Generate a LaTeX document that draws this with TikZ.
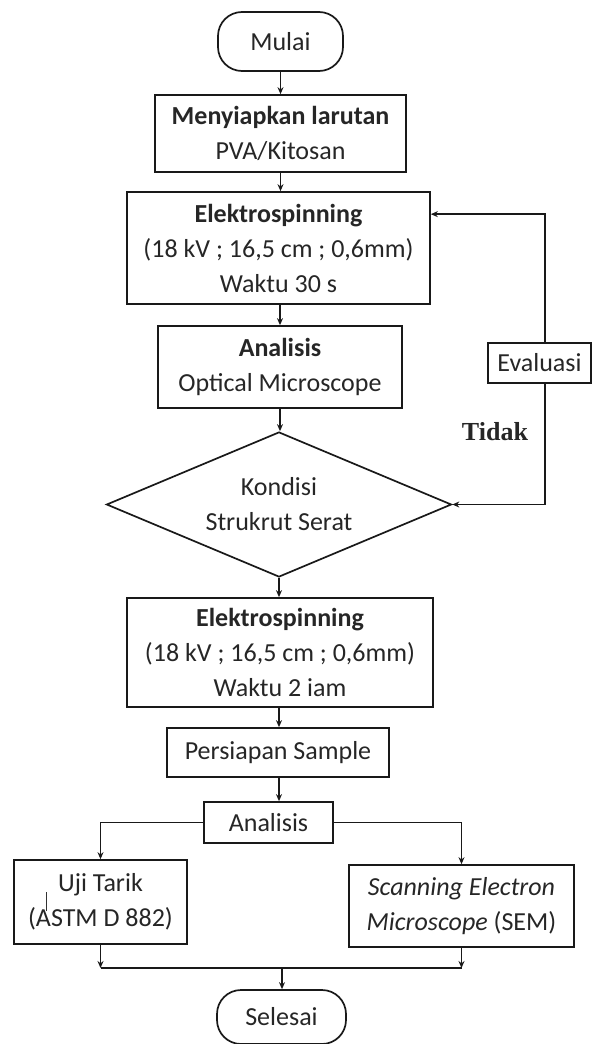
\documentclass[tikz,border=0pt]{standalone}
\usepackage{fontspec}
\setmainfont{Carlito}
\newfontfamily\tidakfont{Liberation Serif}
\usetikzlibrary{shapes.geometric,arrows.meta,calc}
\begin{document}
\begin{tikzpicture}[x=1pt,y=-1pt,
  every node/.style={font=\fontsize{26}{35}\selectfont, text=black!85, align=center, inner sep=0pt},
  box/.style={draw=black!90, line width=1.7pt, rectangle},
  term/.style={draw=black!90, line width=1.7pt, rectangle, rounded corners=24pt},
  dec/.style={draw=black!90, line width=1.7pt, diamond, aspect=2.38},
  conn/.style={draw=black!90, line width=1.5pt, -{Stealth[length=7pt,width=6pt]}},
  plain/.style={draw=black!90, line width=1.5pt}]
\useasboundingbox (0,0) rectangle (592,1044);

\node[term, minimum width=125pt, minimum height=59pt] (mulai) at (280.5,41.5) {Mulai};
\node[box, minimum width=251pt, minimum height=77pt] (prep) at (280.5,133.5) {\textbf{Menyiapkan larutan}\\PVA/Kitosan};
\node[box, minimum width=303pt, minimum height=112pt] (elek1) at (278.5,248) {\textbf{Elektrospinning}\\(18 kV ; 16,5 cm ; 0,6mm)\\Waktu 30 s};
\node[box, minimum width=244pt, minimum height=82pt] (anal1) at (280,367) {\textbf{Analisis}\\Optical Microscope};
\node[box, minimum width=103pt, minimum height=40pt] (eval) at (539.5,363) {Evaluasi};
\node[dec, minimum width=345pt, minimum height=145pt] (kond) at (279,504.5) {Kondisi\\Strukrut Serat};
\node (tidak) at (495,432) {\tidakfont\bfseries Tidak};
\node[box, minimum width=306pt, minimum height=109pt] (elek2) at (280,652.5) {\textbf{Elektrospinning}\\(18 kV ; 16,5 cm ; 0,6mm)\\Waktu 2 iam};
\node[box, minimum width=222pt, minimum height=49pt] (pers) at (278,752.5) {Persiapan Sample};
\node[box, minimum width=129pt, minimum height=41pt] (anal2) at (268.5,822.5) {Analisis};
\node[box, minimum width=173pt, minimum height=84pt] (uji) at (100.5,902) {Uji Tarik\\(ASTM D 882)};
\node[box, minimum width=225pt, minimum height=82pt] (sem) at (461.5,906) {\textit{Scanning Electron}\\\textit{Microscope} (SEM)};
\node[term, minimum width=129pt, minimum height=54pt] (selesai) at (281.5,1017) {Selesai};

\coordinate (evx) at (545,0);
\coordinate (join) at (282,968);

\draw[conn] (mulai.south) -- (prep.north -| mulai.south);
\draw[conn] (prep.south) -- (prep.south |- elek1.north);
\draw[conn] (elek1.south -| 280,0) -- (anal1.north);
\draw[conn] (anal1.south) -- (anal1.south |- kond.north);
\draw[conn] (eval.north -| evx) |- ([yshift=-23pt]elek1.north east);
\draw[conn] (eval.south -| evx) |- (kond.east);
\draw[conn] (kond.south) -- (kond.south |- elek2.north);
\draw[conn] (elek2.south -| kond.south) -- (kond.south |- pers.north);
\draw[conn] (pers.south -| kond.south) -- (kond.south |- anal2.north);
\draw[conn] (anal2.west) -| (uji.north);
\draw[conn] (anal2.east) -| (sem.north);
\draw[conn] (uji.south) -- (uji.south |- join);
\draw[conn] (sem.south) -- (sem.south |- join);
\draw[plain] (uji.south |- join) -- (sem.south |- join);
\draw[conn] (join) -- (join |- selesai.north);
\draw[draw=black!80, line width=0.8pt] ([xshift=-54pt,yshift=-9pt]uji.center) -- ([xshift=-54pt,yshift=10pt]uji.center);
\end{tikzpicture}
\end{document}
